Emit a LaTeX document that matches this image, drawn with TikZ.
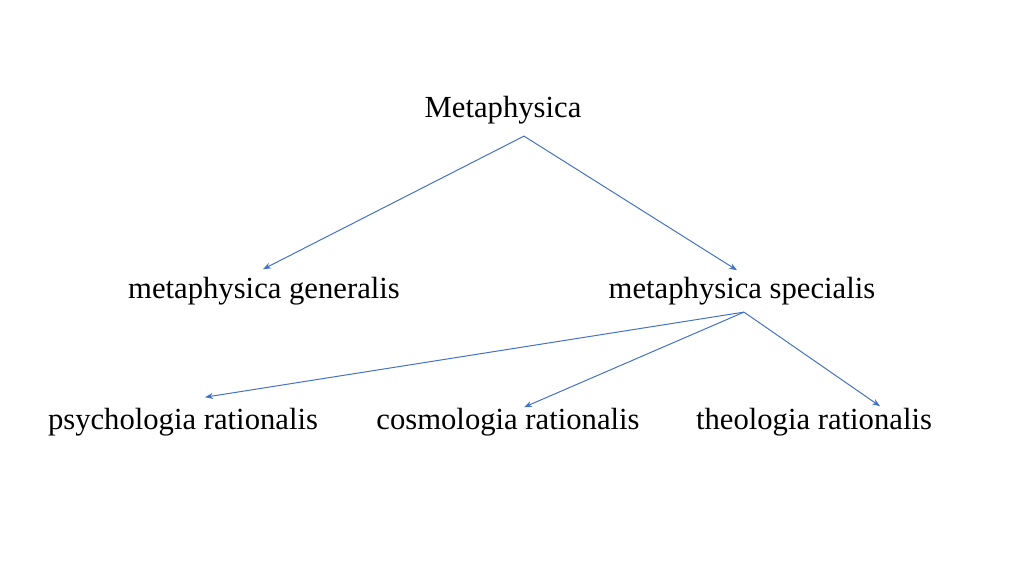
\documentclass[tikz,border=0pt]{standalone}
\usepackage{fontspec}
\setmainfont{Liberation Serif}
\usetikzlibrary{arrows.meta,calc}

\definecolor{linkblue}{HTML}{4472C4}
\tikzset{every picture/.style={line width=0.75pt}}
\tikzset{
  term/.style={anchor=base,inner sep=0.75pt,font=\fontsize{23}{27}\selectfont},
  link/.style={draw=linkblue,line width=0.75pt,-{Stealth[length=6pt,width=4.5pt]}}
}

\begin{document}
\begin{tikzpicture}[x=0.75pt,y=0.75pt,yscale=-1,xscale=1]
        \useasboundingbox (0,0) rectangle (1024,574);

        \node[term] (meta) at (503,118) {Metaphysica};
        \node[term] (gen) at (264,298) {metaphysica generalis};
        \node[term] (spec) at (742,298) {metaphysica specialis};
        \node[term] (psy) at (183,429) {psychologia rationalis};
        \node[term] (cos) at (508,429) {cosmologia rationalis};
        \node[term] (theo) at (814,429) {theologia rationalis};

        \coordinate (metafork) at ($(meta.south)+(21,10)$);
        \coordinate (specfork) at ($(spec.south)+(2,6)$);

        \draw[link] (metafork) -- ($(gen.north)+(-1,-6)$);
        \draw[link] (metafork) -- ($(spec.north)+(-5,-5)$);
        \draw[link] (specfork) -- ($(psy.north)+(22,-9)$);
        \draw[link] (specfork) -- ($(cos.north)+(16,1)$);
        \draw[link] (specfork) -- ($(theo.north)+(66,0)$);
    \end{tikzpicture}
\end{document}
